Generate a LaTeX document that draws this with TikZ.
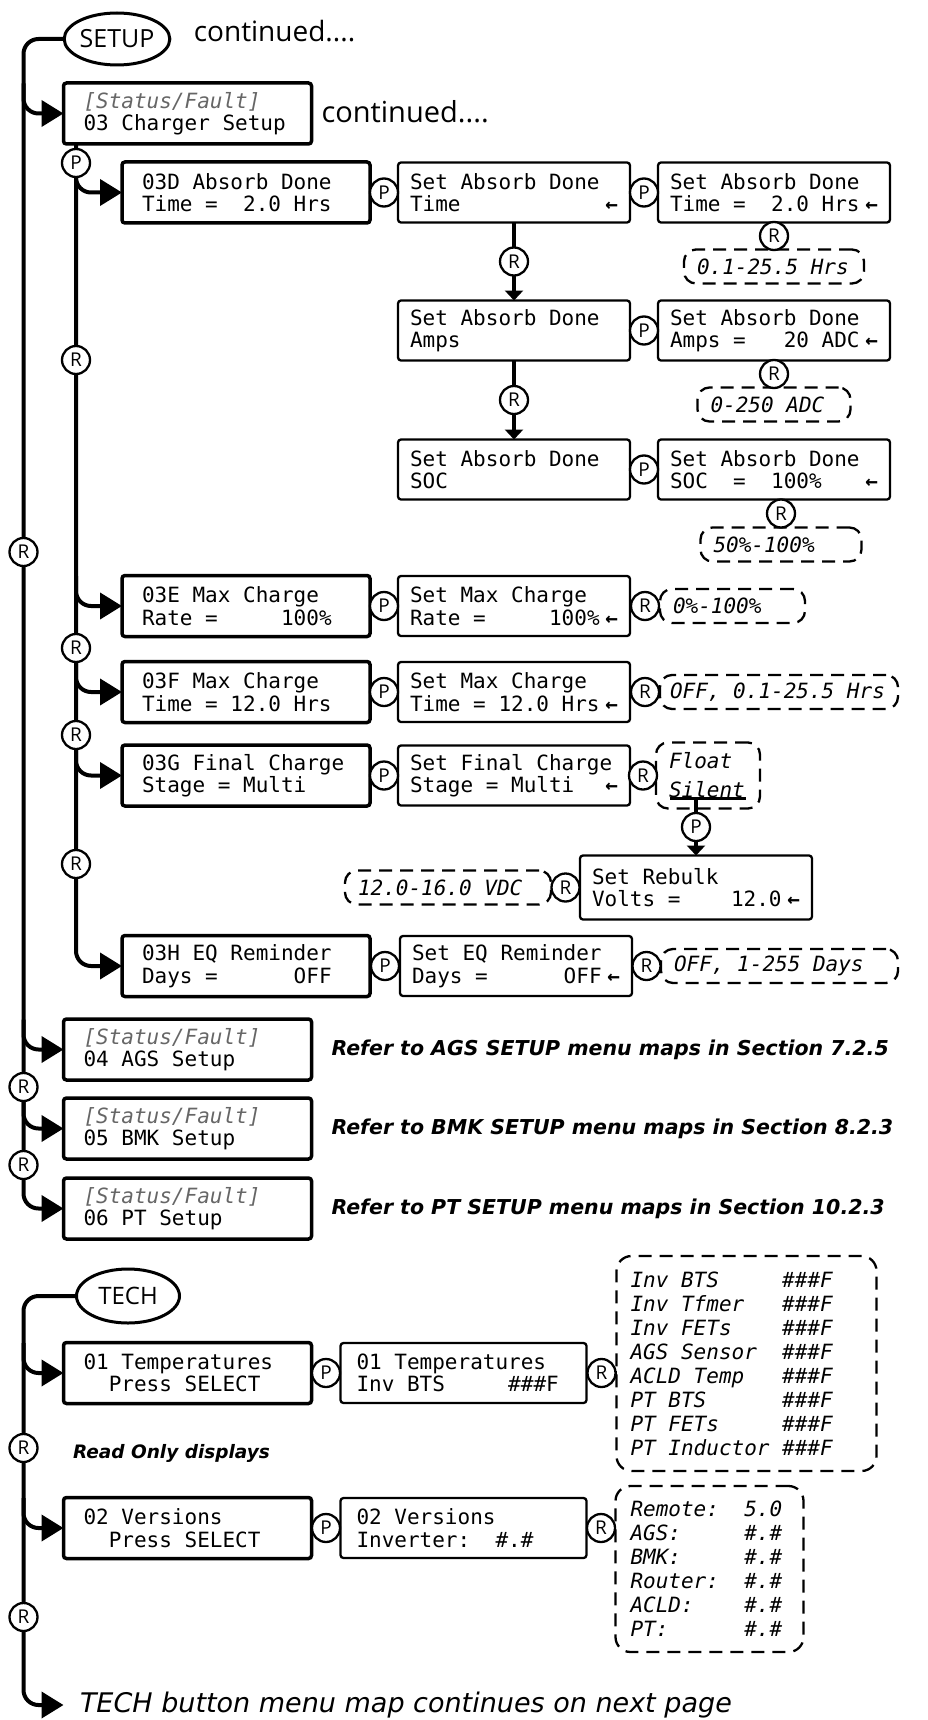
\documentclass[tikz,border=0pt]{standalone}
\usepackage{fontspec}
\setmainfont{DejaVu Sans}
\newfontfamily\lcdface{DejaVu Sans Mono}[WordSpace={1,0,0}]
\newfontfamily\keyface{Open Sans}
\usetikzlibrary{arrows.meta, positioning, shapes.geometric, calc}
\newcommand\lcdtxt{\lcdface\fontsize{21}{22.5}\selectfont\frenchspacing}
\newcommand\lsttxt{\lcdface\itshape\fontsize{21}{24}\selectfont\frenchspacing}
\newcommand\keytxt{\keyface\fontsize{19}{19}\selectfont}
\newcommand\reftxt{\bfseries\itshape\fontsize{20.5}{24}\selectfont}
\newcommand\larr{\nobreak\hfill\nobreak\hspace{2pt}\nobreak{\bfseries←}}
\newcommand\stat{{\color{black!60}\itshape[Status/Fault]}}

\begin{document}
\begin{tikzpicture}[x=1pt, y=-1pt,
  mb/.style={draw, line width=3.5pt, rounded corners=3pt, outer sep=0pt, font=\lcdtxt, align=flush left, text width=208pt, inner xsep=20pt, inner ysep=0pt, minimum height=61pt},
  sb/.style={draw, line width=2.3pt, rounded corners=3pt, outer sep=0pt, font=\lcdtxt, align=flush left, text width=208pt, inner xsep=12pt, inner ysep=0pt, minimum height=60pt},
  btn/.style={draw, circle, fill=white, line width=2.3pt, outer sep=0pt, inner sep=0pt, minimum size=28pt, font=\keytxt},
  rng/.style={draw, line width=2.3pt, dash pattern=on 13pt off 8pt, rounded corners=12pt, outer sep=0pt, font=\lsttxt, align=flush left, inner xsep=13pt, inner ysep=0pt, minimum height=34pt},
  keyoval/.style={draw, ellipse, line width=3pt, outer sep=0pt, inner sep=0pt},
  note/.style={inner sep=0pt, outer sep=0pt},
  lnk/.style={line width=4pt},
  br/.style={line width=4pt, rounded corners=15pt, -{Triangle[length=22pt,width=26pt]}},
  dn/.style={line width=4pt, -{Triangle[length=10pt,width=18pt]}}]
  \useasboundingbox (0,0) rectangle (927,1720);

  \node[keyoval, minimum width=93pt, minimum height=52pt, font=\keyface\fontsize{25}{25}\selectfont] (setup) at (117,39) {SETUP};
  \node[note, right=24pt of setup, anchor=base west, yshift=-3pt, font=\keyface\fontsize{28}{28}\selectfont] (cont1) {continued....};
  \node[mb] (m03) at (187.5,113.5) {\stat\\03 Charger Setup};
  \node[note, right=10pt of m03, anchor=base west, yshift=-9.5pt, font=\keyface\fontsize{29}{29}\selectfont] (cont2) {continued....};

  \node[mb] (d3D) at (246,192.5) {03D Absorb Done\\Time =~~2.0 Hrs};
  \node[sb, right=28pt of d3D] (s3D) {Set Absorb Done\\Time\larr};
  \node[sb, right=28pt of s3D] (v3D) {Set Absorb Done\\Time =~~2.0 Hrs\larr};
  \node[rng, text width=154pt, below=27pt of v3D] (rA1) {0.1-25.5 Hrs};
  \node[sb, below=78pt of s3D] (s3A) {Set Absorb Done\\Amps};
  \node[sb, right=28pt of s3A] (v3A) {Set Absorb Done\\Amps =~~~20 ADC\larr};
  \node[rng, text width=127pt, below=27pt of v3A] (rA2) {0-250 ADC};
  \node[sb, below=79pt of s3A] (s3S) {Set Absorb Done\\SOC};
  \node[sb, right=28pt of s3S] (v3S) {Set Absorb Done\\SOC~~=~~100\%\larr};
  \node[rng, text width=135pt, below=28pt of v3S, xshift=7pt] (rA3) {50\%-100\%};

  \node[mb] (d3E) at (246,606) {03E Max Charge\\Rate =~~~~~100\%};
  \node[sb, right=28pt of d3E] (s3E) {Set Max Charge\\Rate =~~~~~100\%\larr};
  \node[rng, text width=119pt, right=30pt of s3E] (r3E) {0\%-100\%};
  \node[mb] (d3F) at (246,692) {03F Max Charge\\Time = 12.0 Hrs};
  \node[sb, right=28pt of d3F] (s3F) {Set Max Charge\\Time = 12.0 Hrs\larr};
  \node[rng, text width=218pt, inner xsep=10pt, right=30pt of s3F] (r3F) {OFF, 0.1-25.5 Hrs};
  \node[mb] (d3G) at (246,775.5) {03G Final Charge\\Stage = Multi};
  \node[sb, right=28pt of d3G] (s3G) {Set Final Charge\\Stage = Multi\larr};
  \node[rng, text width=78pt, minimum height=66pt, right=26pt of s3G] (r3G) {Float\\[5pt]Silent};
  \node[sb, minimum height=64pt, below=47pt of r3G, xshift=-12pt] (rb) {Set Rebulk\\Volts =~~~~12.0\larr};
  \node[rng, text width=180pt, left=29pt of rb] (rRB) {12.0-16.0 VDC};
  \node[mb] (d3H) at (246,966) {03H EQ Reminder\\Days =~~~~~~OFF};
  \node[sb, right=30pt of d3H] (s3H) {Set EQ Reminder\\Days =~~~~~~OFF\larr};
  \node[rng, text width=211pt, right=29pt of s3H] (r3H) {OFF, 1-255 Days};

  \node[mb] (m04) at (187.5,1049.5) {\stat\\04 AGS Setup};
  \node[note, right=20pt of m04, font=\reftxt] (ref04) {Refer to AGS SETUP menu maps in Section 7.2.5};
  \node[mb] (m05) at (187.5,1128.5) {\stat\\05 BMK Setup};
  \node[note, right=20pt of m05, font=\reftxt] (ref05) {Refer to BMK SETUP menu maps in Section 8.2.3};
  \node[mb] (m06) at (187.5,1208.5) {\stat\\06 PT Setup};
  \node[note, right=20pt of m06, font=\reftxt] (ref06) {Refer to PT SETUP menu maps in Section 10.2.3};

  \node[keyoval, minimum width=103pt, minimum height=54pt, font=\keyface\fontsize{24}{24}\selectfont] (tech) at (128,1296) {TECH};
  \node[mb] (t01) at (187.5,1373) {01 Temperatures\\\mbox{}~~Press SELECT};
  \node[sb, text width=214pt, inner xsep=16pt, right=29pt of t01] (t01s) {01 Temperatures\\Inv BTS~~~~~\#\#\#F};
  \node[rng, text width=232pt, inner xsep=14pt, rounded corners=15pt, minimum height=215pt, right=30pt of t01s, yshift=9.5pt] (tl)
    {Inv BTS~~~~~\#\#\#F\\Inv Tfmer~~~\#\#\#F\\Inv FETs~~~~\#\#\#F\\AGS Sensor~~\#\#\#F\\ACLD Temp~~~\#\#\#F\\PT BTS~~~~~~\#\#\#F\\PT FETs~~~~~\#\#\#F\\PT Inductor~\#\#\#F};
  \node[note, anchor=west, font=\reftxt\fontsize{18.5}{22}\selectfont] (ro) at (73,1453) {Read Only displays};
  \node[mb] (t02) at (187.5,1528) {02 Versions\\\mbox{}~~Press SELECT};
  \node[sb, text width=214pt, inner xsep=16pt, right=29pt of t02] (t02s) {02 Versions\\Inverter:~~\#.\#};
  \node[rng, text width=158pt, inner xsep=15pt, rounded corners=15pt, minimum height=166pt, right=29pt of t02s, yshift=-41pt] (vl)
    {Remote:~~5.0\\AGS:~~~~~\#.\#\\BMK:~~~~~\#.\#\\Router:~~\#.\#\\ACLD:~~~~\#.\#\\PT:~~~~~~\#.\#};
  \coordinate (tend) at (63.5,1705);
  \node[note, anchor=west, font=\itshape\fontsize{27}{30}\selectfont] (tnext) at (80,1705) {TECH button menu map continues on next page};

  \draw[br] (setup.west) -| ($(m06.west)+(-40,0)$) -- (m06.west);
  \foreach \m in {m03,m04,m05}
    \draw[br] ($(\m.west)+(-40,-30)$) |- (\m.west);
  \node[btn] (rm1) at (23.5,552) {R};
  \node[btn] (rm2) at (23.5,1087) {R};
  \node[btn] (rm3) at (23.5,1165) {R};

  \coordinate (sx) at (76,0);
  \draw[br] (m03.south -| sx) |- (d3H.west);
  \foreach \d in {d3D,d3E,d3F,d3G}
    \draw[br] ($(\d.west -| sx)+(0,-30)$) |- (\d.west);
  \node[btn] (pm3) at (76,163) {P};
  \node[btn] (rs1) at (76,360) {R};
  \node[btn] (rs2) at (76,648) {R};
  \node[btn] (rs3) at (76,735) {R};
  \node[btn] (rs4) at (76,864) {R};

  \draw[lnk] (d3D) -- node[btn] (p3D1) {P} (s3D);
  \draw[lnk] (s3D) -- node[btn] (p3D2) {P} (v3D);
  \draw[lnk] (v3D) -- node[btn] (r3D1) {R} (rA1);
  \draw[dn] (s3D) -- node[btn] (r3D2) {R} (s3A);
  \draw[lnk] (s3A) -- node[btn] (p3A) {P} (v3A);
  \draw[lnk] (v3A) -- node[btn] (r3A) {R} (rA2);
  \draw[dn] (s3A) -- node[btn] (r3S1) {R} (s3S);
  \draw[lnk] (s3S) -- node[btn] (p3S) {P} (v3S);
  \draw[lnk] (rA3.north |- v3S.south) -- node[btn] (r3S2) {R} (rA3.north);

  \draw[lnk] (d3E) -- node[btn] (p3E) {P} (s3E);
  \draw[lnk] (s3E) -- node[btn] (r3E1) {R} (r3E);
  \draw[lnk] (d3F) -- node[btn] (p3F) {P} (s3F);
  \draw[lnk] (s3F) -- node[btn] (r3F1) {R} (r3F);
  \draw[lnk] (d3G) -- node[btn] (p3G) {P} (s3G);
  \draw[lnk] (s3G) -- node[btn] (r3G1) {R} (r3G);
  \draw[line width=3pt] ($(r3G.south west)+(14,-10)$) -- ($(r3G.south west)+(90,-10)$);
  \coordinate (sil) at ($(r3G.south west)+(40,-10)$);
  \draw[dn] (sil) -- node[btn] (pRB) {P} (rb);
  \draw[lnk] (rb) -- node[btn] (rRB1) {R} (rRB);
  \draw[lnk] (d3H) -- node[btn] (p3H) {P} (s3H);
  \draw[lnk] (s3H) -- node[btn] (r3H1) {R} (r3H);

  \draw[br] (tech.west) -| ($(tend)+(-40,0)$) -- (tend);
  \foreach \t in {t01,t02}
    \draw[br] ($(\t.west)+(-40,-30)$) |- (\t.west);
  \node[btn] (rt1) at (23.5,1448) {R};
  \node[btn] (rt2) at (23.5,1617) {R};
  \draw[lnk] (t01) -- node[btn] (pt1) {P} (t01s);
  \draw[lnk] (t01s.east) -- node[btn] (rt3) {R} (t01s.east -| tl.west);
  \draw[lnk] (t02) -- node[btn] (pt2) {P} (t02s);
  \draw[lnk] (t02s.east) -- node[btn] (rt4) {R} (t02s.east -| vl.west);
\end{tikzpicture}
\end{document}
